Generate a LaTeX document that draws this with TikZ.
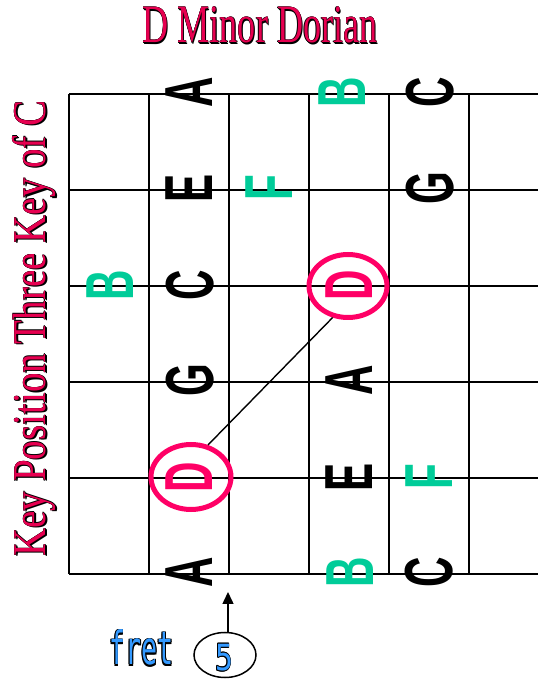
\documentclass[tikz,border=0pt]{standalone}
\usepackage{fontspec}
\usepackage{graphicx}
\usetikzlibrary{shapes.geometric,arrows.meta}
\setmainfont{Liberation Serif}
\newfontfamily\notefont{Liberation Sans}
\newfontfamily\fretfont{DejaVu Sans Mono}
\definecolor{titlered}{RGB}{230,0,80}
\definecolor{ringpink}{RGB}{255,0,102}
\definecolor{notegreen}{RGB}{0,204,153}
\definecolor{fretblue}{RGB}{51,153,255}
% colour, shadow dx, shadow dy, outline width, text
\newcommand{\shadowed}[5]{\leavevmode
 \rlap{\hspace*{#2}\raisebox{#3}{\color{black}#5}}%
 \rlap{\hspace*{#4}\color{black}#5}%
 \rlap{\hspace*{-#4}\color{black}#5}%
 \rlap{\raisebox{#4}{\color{black}#5}}%
 \rlap{\raisebox{-#4}{\color{black}#5}}%
 {\color{#1}#5}}
% colour, outline width, text
\newcommand{\outlined}[3]{\leavevmode
 \rlap{\hspace*{#2}\color{black}#3}%
 \rlap{\hspace*{-#2}\color{black}#3}%
 \rlap{\raisebox{#2}{\color{black}#3}}%
 \rlap{\raisebox{-#2}{\color{black}#3}}%
 \rlap{\hspace*{#2}\raisebox{#2}{\color{black}#3}}%
 \rlap{\hspace*{-#2}\raisebox{#2}{\color{black}#3}}%
 \rlap{\hspace*{#2}\raisebox{-#2}{\color{black}#3}}%
 \rlap{\hspace*{-#2}\raisebox{-#2}{\color{black}#3}}%
 {\color{#1}#3}}
\newcommand{\nt}[1]{\scalebox{0.62}[1]{#1}}
\begin{document}
\begin{tikzpicture}[x=1pt,y=1pt,
  gridline/.style={line width=1.8pt},
  notebox/.style={rotate=90, inner sep=0pt, font=\notefont\bfseries\fontsize{68}{70}\selectfont},
  blacknote/.style={notebox, text=black},
  greennote/.style={notebox, text=notegreen},
  rootnote/.style={notebox, text=ringpink},
  ring/.style={draw=ringpink, line width=5pt, ellipse, inner sep=0pt},
  link/.style={line width=1.4pt},
  ]
\useasboundingbox (0,0) rectangle (538,683);
% grid: strings (horizontal) and frets (vertical)
\foreach \yy in {589,493,397,301,205,109}
  \draw[gridline] (69,\yy) -- (538,\yy);
\foreach \xx in {69,149,229,309,389,469}
  \draw[gridline] (\xx,589) -- (\xx,109);
% title
\node[anchor=base, inner sep=0pt, font=\fontsize{54}{60}\selectfont] (title) at (260,640)
  {\scalebox{0.67}[1]{\shadowed{titlered}{1.6pt}{-1.6pt}{0.6pt}{D Minor Dorian}}};
% side label
\node[rotate=90, anchor=base, inner sep=0pt, font=\fontsize{47}{52}\selectfont] (side) at (46,354.5)
  {\scalebox{0.83}[1]{\shadowed{titlered}{-1.4pt}{-1.4pt}{0.5pt}{Key Position Three Key of C}}};
% rings
\node[ring, minimum width=78pt, minimum height=63pt] (ringup) at (348,397) {};
\node[ring, minimum width=80pt, minimum height=65pt] (ringlow) at (191,206) {};
% notes
\node[blacknote] (A1) at (189,591) {\nt{A}};
\node[greennote] (B1) at (342,591) {\nt{B}};
\node[blacknote] (C1) at (430,591) {\nt{C}};
\node[blacknote] (E2) at (189,495) {\nt{E}};
\node[greennote] (F2) at (269,495) {\nt{F}};
\node[blacknote] (G2) at (430,495) {\nt{G}};
\node[greennote] (B3) at (110,398) {\nt{B}};
\node[blacknote] (C3) at (190,398) {\nt{C}};
\node[rootnote]  (D3) at (349,398) {\nt{D}};
\node[blacknote] (G4) at (190,303) {\nt{G}};
\node[blacknote] (A4) at (349,303) {\nt{A}};
\node[rootnote]  (D5) at (189,206) {\nt{D}};
\node[blacknote] (E5) at (349,206) {\nt{E}};
\node[greennote] (F5) at (429,206) {\nt{F}};
\node[blacknote] (A6) at (189,111) {\nt{A}};
\node[greennote] (B6) at (350,111) {\nt{B}};
\node[blacknote] (C6) at (429,111) {\nt{C}};
% connector between the roots
\draw[link] (ringlow.62) -- (ringup.244);
% fret marker
\node[anchor=base, inner sep=0pt, font=\fretfont\fontsize{46}{50}\selectfont] (fretlabel) at (141.5,18)
  {\scalebox{0.58}[1]{\outlined{fretblue}{1pt}{fret}}};
\node[draw, ellipse, line width=1.5pt, minimum width=62pt, minimum height=45pt, inner sep=0pt] (five) at (225,28) {};
\node[inner sep=0pt, font=\fretfont\fontsize{36}{40}\selectfont] (fivetext) at (224,25)
  {\scalebox{0.83}[1]{\outlined{fretblue}{0.9pt}{5}}};
\coordinate (arrowtip) at (228,91);
\draw[line width=1.5pt, -{Triangle[length=12pt,width=11pt]}] (five.north -| arrowtip) -- (arrowtip);
\end{tikzpicture}
\end{document}
